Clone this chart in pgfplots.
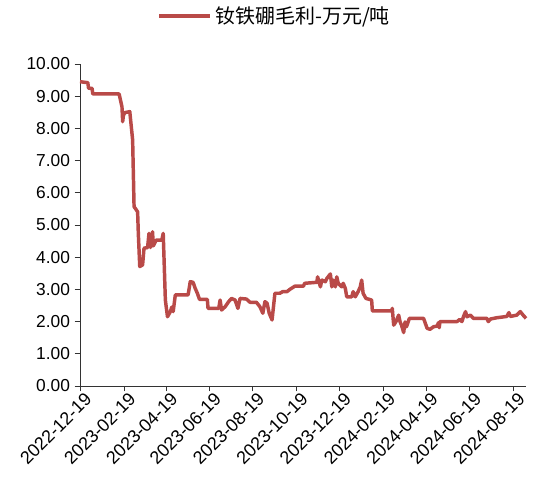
\documentclass[border=0pt]{standalone}
\usepackage{pgfplots}
\pgfplotsset{compat=1.18}
\usepackage{fontspec}
\setmainfont{Liberation Sans}
\newfontfamily\cjk{Noto Sans CJK SC}
\definecolor{lineRed}{RGB}{185,74,72}

\begin{document}
\begin{tikzpicture}
\begin{axis}[
    scale only axis,
    width=334.5pt, height=241.5pt,
    xmin=0, xmax=627,
    ymin=0, ymax=10,
    axis lines=left,
    axis line style={-, black!80, line width=0.6pt},
    tick align=outside,
    major tick length=4pt,
    tick style={black!80, line width=0.6pt},
    ytick={0,1,...,10},
    yticklabel style={/pgf/number format/fixed, /pgf/number format/zerofill,
        /pgf/number format/precision=2, font=\fontsize{13}{15}\selectfont},
    /pgf/number format/assume math mode=true,
    xtick={0,62,121,182,243,304,365,427,487,548,609},
    xticklabels={2022-12-19,2023-02-19,2023-04-19,2023-06-19,2023-08-19,2023-10-19,
        2023-12-19,2024-02-19,2024-04-19,2024-06-19,2024-08-19},
    x tick label style={rotate=45, anchor=north east, inner sep=1pt,
        xshift=3pt, yshift=-1pt, font=\fontsize{13.5}{15}\selectfont},
    legend style={draw=none, fill=none, at={(rel axis cs:0.437,1.149)}, anchor=center,
        font=\fontsize{15}{17}\selectfont\cjk},
    legend cell align=left,
    legend image code/.code={\draw[#1, line width=3pt] (0cm,0cm) -- (1.35cm,0cm);},
    clip=false,
]
\coordinate (o) at (rel axis cs:0,0);
\coordinate (tr) at (rel axis cs:1,1);
\addplot[color=lineRed, line width=2.6pt, line join=round] coordinates {
(0,9.45)(11,9.42)(12,9.25)(17,9.24)(18,9.07)(55,9.07)(59,8.67)(60,8.21)(61,8.40)
(63,8.49)(70,8.52)(74,7.64)(76,5.57)(81,5.41)(82,4.74)(84,3.71)(88,3.76)(90,4.28)
(95,4.30)(97,4.74)(99,4.30)(102,4.79)(103,4.35)(107,4.53)(115,4.53)(117,4.74)
(120,2.67)(123,2.15)(127,2.31)(129,2.45)(131,2.31)(134,2.83)(152,2.83)(155,3.24)
(159,3.22)(162,3.03)(165,2.88)(168,2.69)(179,2.69)(180,2.41)(195,2.41)(197,2.67)
(199,2.36)(204,2.46)(209,2.62)(213,2.72)(218,2.67)(222,2.41)(225,2.72)(234,2.70)
(239,2.60)(248,2.60)(253,2.46)(257,2.26)(260,2.62)(263,2.57)(266,2.26)(270,2.05)
(272,2.46)(274,2.88)(281,2.88)(285,2.93)(291,2.93)(295,3.00)(302,3.10)(314,3.10)
(316,3.19)(333,3.22)(334,3.39)(338,3.08)(340,3.29)(345,3.24)(347,3.34)(352,3.48)
(354,3.08)(356,3.29)(359,3.08)(361,3.39)(363,3.19)(368,3.08)(370,3.19)(373,3.03)
(375,2.77)(382,2.77)(384,2.93)(387,2.77)(391,2.93)(394,3.08)(396,3.29)(398,2.88)
(402,2.72)(410,2.67)(411,2.33)(438,2.33)(439,2.41)(441,1.89)(444,1.99)(448,2.20)
(450,1.99)(452,1.89)(455,1.66)(457,1.99)(459,1.84)(463,2.10)(483,2.10)(488,1.79)
(492,1.76)(497,1.84)(502,1.86)(504,1.97)(505,1.81)(506,2.00)(530,2.00)(534,2.07)
(537,2.00)(539,2.15)(542,2.31)(544,2.15)(549,2.20)(553,2.10)(572,2.10)(574,2.00)
(577,2.08)(586,2.12)(600,2.16)(603,2.28)(605,2.16)(614,2.20)(619,2.31)(623,2.20)
(627,2.10)
};
\addlegendentry{钕铁硼毛利-万元/吨}
\end{axis}
\pgfresetboundingbox
\useasboundingbox ([xshift=-60pt,yshift=-69.75pt]o) rectangle ([xshift=5.25pt,yshift=48pt]tr);
\end{tikzpicture}
\end{document}
